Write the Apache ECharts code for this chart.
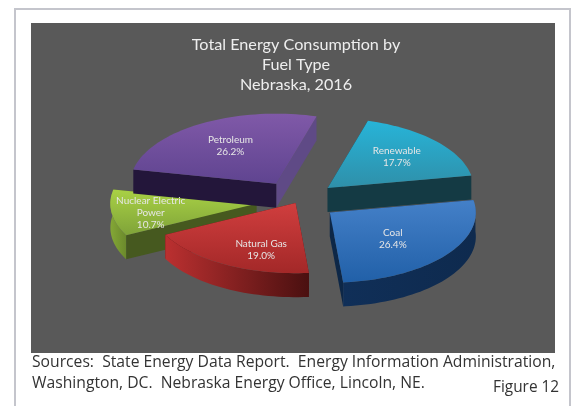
<!DOCTYPE html>
<html>
<head>
<meta charset="utf-8">
<style>
  html, body { margin: 0; padding: 0; background: #fff; }
  #chart { width: 572px; height: 406px; }
</style>
<script src="https://cdn.jsdelivr.net/npm/echarts@6/dist/echarts.min.js"></script>
</head>
<body>
<div id="chart"></div>
<script>
// values in clockwise order, starting at the renewable slice
const fuels = ["Renewable", "Coal", "Natural Gas", "Nuclear Electric\nPower", "Petroleum"];
const shares = [17.7, 26.4, 19.0, 10.7, 26.2];

// pie shape
const center = [298, 201];
const radius = 146;
const tilt = 0.48;
const depth = 24;
const startAngle = 16;
const explosion = [40, 40, 5, 42, 42];
const labelRadius = [0.62, 0.55, 0.6, 0.73, 0.58];
const labelShift = [[2, -2], [-1, 3], [8, 10], [0, 2], [-2, -3]];
const drawOrder = [1, 3, 4, 2, 0];

const topColors = [["#27b4d8", "#2f8fa9"], ["#4480c8", "#2160a8"], ["#d03e3e", "#a32828"], ["#a9d145", "#7fa339"], ["#8059a8", "#5f4490"]];
const startWallColors = ["#143a44", "#0d2747", "#5a1414", "#46591f", "#23163a"];
const endWallColors = ["#143a44", "#0d2747", "#5a1414", "#46591f", "#5f4a86"];
const arcColors = [["#1d6f85", "#1d6f85"], ["#102f58", "#0e2a4e"], ["#bb3030", "#4a1010"], ["#84a736", "#6b8a2c"], ["#3a2560", "#3a2560"]];

const rad = d => d * Math.PI / 180;
const total = shares.reduce((a, b) => a + b, 0);

function angles(i) {
  let from = startAngle;
  for (let j = 0; j < i; j++) from += shares[j] / total * 360;
  return [from, from + shares[i] / total * 360];
}

function point(apex, angle, r) {
  return [apex[0] + r * Math.sin(rad(angle)), apex[1] - r * tilt * Math.cos(rad(angle))];
}

const down = p => [p[0], p[1] + depth];

function renderSlice(params, api) {
  const i = params.dataIndex;
  const [a0, a1] = angles(i);
  const mid = (a0 + a1) / 2;
  const apex = point(center, mid, explosion[i]);
  const z2 = drawOrder.indexOf(i) * 10;

  const arc = [];
  const front = [];
  for (let a = a0; a <= a1; a += 2) {
    arc.push(point(apex, a, radius));
    if (a > 85 && a < 280) front.push(point(apex, a, radius));
  }
  arc.push(point(apex, a1, radius));
  if (a1 > 85 && a1 < 280) front.push(point(apex, a1, radius));

  const faces = [];
  const wall = (a, b, color) => faces.push({ y: (a[1] + b[1]) / 2, shape: [a, b, down(b), down(a)], color });
  wall(apex, arc[0], startWallColors[i]);
  wall(apex, arc[arc.length - 1], endWallColors[i]);
  faces.sort((p, q) => p.y - q.y);

  const children = faces.map((f, n) => ({
    type: "polygon",
    z2: z2 + n,
    shape: { points: f.shape },
    style: { fill: f.color }
  }));

  if (front.length > 1) {
    children.push({
      type: "polygon",
      z2: z2 + 2,
      shape: { points: front.concat(front.slice().reverse().map(down)) },
      style: {
        fill: new echarts.graphic.LinearGradient(0, 0, 1, 0, [
          { offset: 0, color: arcColors[i][0] },
          { offset: 1, color: arcColors[i][1] }
        ])
      }
    });
  }

  children.push({
    type: "polygon",
    z2: z2 + 3,
    shape: { points: [apex].concat(arc) },
    style: {
      fill: new echarts.graphic.LinearGradient(0, 0, 0, 1, [
        { offset: 0, color: topColors[i][0] },
        { offset: 1, color: topColors[i][1] }
      ])
    }
  });

  const at = point(apex, mid, radius * labelRadius[i]);
  children.push({
    type: "text",
    z2: 100,
    style: {
      x: at[0] + labelShift[i][0], y: at[1] + labelShift[i][1],
      text: fuels[i] + "\n" + api.value(0).toFixed(1) + "%",
      fill: "#e6e6e6",
      font: "10px Lato",
      lineHeight: 12,
      align: "center",
      verticalAlign: "middle"
    }
  });

  return { type: "group", children };
}

const chart = echarts.init(document.getElementById("chart"), null, { renderer: "canvas" });
chart.setOption({
  animation: false,
  backgroundColor: "#fff",
  title: {
    text: "Total Energy Consumption by\nFuel Type\nNebraska, 2016",
    left: 291,
    top: 30,
    textAlign: "center",
    textStyle: { color: "#eeeeee", fontFamily: "Lato", fontSize: 16.2, fontWeight: "normal", lineHeight: 20 }
  },
  graphic: [
    { type: "polyline", z: -2, shape: { points: [[15, 406], [15, 9], [570, 9], [570, 406]] }, style: { stroke: "#c4c5cc", lineWidth: 2, fill: null } },
    { type: "rect", z: -1, shape: { x: 31, y: 23, width: 524, height: 330 }, style: { fill: "#595959" } },
    { type: "text", left: 32, top: 352, style: { text: "Sources:  State Energy Data Report.  Energy Information Administration,\nWashington, DC.  Nebraska Energy Office, Lincoln, NE.", fill: "#333", font: "15.7px 'Open Sans'", lineHeight: 21 } },
    { type: "text", left: 493, top: 380, style: { text: "Figure 12", fill: "#333", font: "15.4px 'Open Sans'" } }
  ],
  series: [{
    type: "custom",
    coordinateSystem: "none",
    silent: true,
    data: shares.map(v => [v]),
    renderItem: renderSlice
  }]
});
</script>
</body>
</html>
